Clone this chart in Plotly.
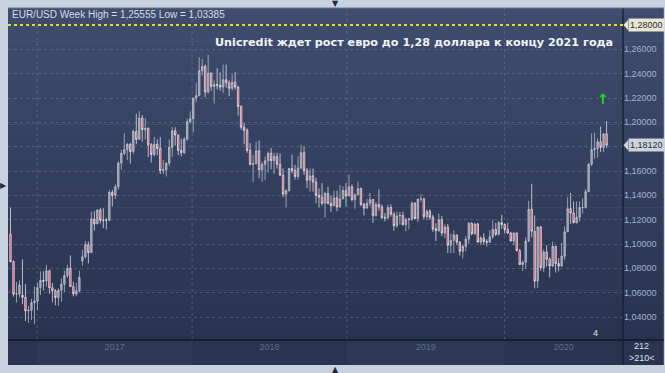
import plotly.graph_objects as go
import pandas as pd

# ---------------- DATA (weekly EUR/USD, weeks starting 2016-11-07) ----------------
opens_2016 = [1.1080, 1.0855, 1.0588, 1.0590, 1.0580, 1.0562, 1.0450, 1.0455]
highs_2016 = [1.1300, 1.0866, 1.0688, 1.0700, 1.0874, 1.0670, 1.0490, 1.0550]
lows_2016 = [1.0852, 1.0567, 1.0518, 1.0560, 1.0505, 1.0367, 1.0352, 1.0375]
closes_2016 = [1.0854, 1.0588, 1.0590, 1.0664, 1.0562, 1.0450, 1.0455, 1.0517]

opens_2017 = [1.0517, 1.0530, 1.0643, 1.0700, 1.0695, 1.0780, 1.0640, 1.0615, 1.0560, 1.0620,
              1.0670, 1.0740, 1.0800, 1.0650, 1.0590, 1.0615, 1.0860, 1.0895, 1.0995, 1.0930,
              1.1205, 1.1165, 1.1280, 1.1195, 1.1195, 1.1195, 1.1425, 1.1400, 1.1470, 1.1665,
              1.1745, 1.1775, 1.1820, 1.1760, 1.1925, 1.1860, 1.2035, 1.1940, 1.1950, 1.1815,
              1.1735, 1.1820, 1.1785, 1.1605, 1.1610, 1.1665, 1.1795, 1.1930, 1.1895, 1.1770,
              1.1750, 1.1860]
highs_2017 = [1.0650, 1.0685, 1.0775, 1.0776, 1.0829, 1.0790, 1.0680, 1.0630, 1.0635, 1.0715,
              1.0780, 1.0830, 1.0906, 1.0690, 1.0680, 1.0780, 1.0950, 1.1025, 1.1020, 1.1265,
              1.1270, 1.1285, 1.1295, 1.1295, 1.1215, 1.1445, 1.1445, 1.1490, 1.1680, 1.1775,
              1.1910, 1.1830, 1.1830, 1.1940, 1.2070, 1.2092, 1.2060, 1.2035, 1.1960, 1.1830,
              1.1880, 1.1860, 1.1880, 1.1690, 1.1670, 1.1860, 1.1960, 1.1960, 1.1900, 1.1865,
              1.1880, 1.2030]
lows_2017 = [1.0340, 1.0455, 1.0580, 1.0620, 1.0650, 1.0590, 1.0520, 1.0495, 1.0490, 1.0525,
             1.0605, 1.0720, 1.0650, 1.0570, 1.0570, 1.0600, 1.0820, 1.0880, 1.0840, 1.0925,
             1.1110, 1.1165, 1.1170, 1.1130, 1.1120, 1.1190, 1.1310, 1.1370, 1.1445, 1.1610,
             1.1730, 1.1690, 1.1660, 1.1740, 1.1820, 1.1860, 1.1840, 1.1860, 1.1715, 1.1670,
             1.1720, 1.1730, 1.1575, 1.1575, 1.1555, 1.1640, 1.1715, 1.1810, 1.1730, 1.1720,
             1.1740, 1.1850]
closes_2017 = [1.0530, 1.0643, 1.0700, 1.0695, 1.0780, 1.0640, 1.0615, 1.0560, 1.0620, 1.0670,
               1.0740, 1.0800, 1.0650, 1.0590, 1.0615, 1.0725, 1.0895, 1.0995, 1.0930, 1.1205,
               1.1165, 1.1280, 1.1195, 1.1195, 1.1195, 1.1425, 1.1400, 1.1470, 1.1665, 1.1745,
               1.1775, 1.1820, 1.1760, 1.1925, 1.1860, 1.2035, 1.1940, 1.1950, 1.1815, 1.1735,
               1.1820, 1.1785, 1.1605, 1.1610, 1.1665, 1.1795, 1.1930, 1.1895, 1.1770, 1.1750,
               1.1860, 1.2005]

opens_2018 = [1.2005, 1.2030, 1.2200, 1.2220, 1.2425, 1.2460, 1.2250, 1.2405, 1.2295, 1.2310,
              1.2305, 1.2290, 1.2350, 1.2325, 1.2280, 1.2330, 1.2290, 1.2130, 1.1960, 1.1935,
              1.1770, 1.1655, 1.1660, 1.1765, 1.1610, 1.1655, 1.1685, 1.1745, 1.1685, 1.1720,
              1.1655, 1.1565, 1.1410, 1.1440, 1.1620, 1.1605, 1.1555, 1.1625, 1.1750, 1.1605,
              1.1525, 1.1560, 1.1510, 1.1400, 1.1385, 1.1335, 1.1415, 1.1335, 1.1315, 1.1380,
              1.1305, 1.1370]
highs_2018 = [1.2090, 1.2200, 1.2325, 1.2537, 1.2520, 1.2475, 1.2555, 1.2410, 1.2345, 1.2445,
              1.2410, 1.2475, 1.2475, 1.2345, 1.2395, 1.2415, 1.2300, 1.2140, 1.1995, 1.1950,
              1.1830, 1.1730, 1.1840, 1.1850, 1.1675, 1.1720, 1.1760, 1.1790, 1.1750, 1.1750,
              1.1745, 1.1620, 1.1450, 1.1625, 1.1735, 1.1650, 1.1720, 1.1815, 1.1800, 1.1625,
              1.1620, 1.1620, 1.1545, 1.1455, 1.1500, 1.1430, 1.1470, 1.1400, 1.1440, 1.1440,
              1.1485, 1.1475]
lows_2018 = [1.1990, 1.1915, 1.2165, 1.2215, 1.2385, 1.2205, 1.2235, 1.2260, 1.2155, 1.2270,
             1.2260, 1.2240, 1.2285, 1.2215, 1.2260, 1.2270, 1.2055, 1.1940, 1.1820, 1.1750,
             1.1645, 1.1510, 1.1655, 1.1540, 1.1510, 1.1525, 1.1590, 1.1615, 1.1575, 1.1620,
             1.1560, 1.1385, 1.1300, 1.1430, 1.1580, 1.1530, 1.1530, 1.1615, 1.1570, 1.1460,
             1.1430, 1.1430, 1.1335, 1.1300, 1.1315, 1.1215, 1.1325, 1.1265, 1.1310, 1.1270,
             1.1300, 1.1370]
closes_2018 = [1.2030, 1.2200, 1.2220, 1.2425, 1.2460, 1.2250, 1.2405, 1.2295, 1.2310, 1.2305,
               1.2290, 1.2350, 1.2325, 1.2280, 1.2330, 1.2290, 1.2130, 1.1960, 1.1935, 1.1770,
               1.1655, 1.1660, 1.1765, 1.1610, 1.1655, 1.1685, 1.1745, 1.1685, 1.1720, 1.1655,
               1.1565, 1.1410, 1.1440, 1.1620, 1.1605, 1.1555, 1.1625, 1.1750, 1.1605, 1.1525,
               1.1560, 1.1510, 1.1400, 1.1385, 1.1335, 1.1415, 1.1335, 1.1315, 1.1380, 1.1305,
               1.1370, 1.1440]

opens_2019 = [1.1440, 1.1395, 1.1470, 1.1365, 1.1405, 1.1455, 1.1325, 1.1295, 1.1335, 1.1365,
              1.1235, 1.1325, 1.1305, 1.1215, 1.1215, 1.1300, 1.1245, 1.1150, 1.1230, 1.1235,
              1.1160, 1.1200, 1.1205, 1.1335, 1.1210, 1.1370, 1.1370, 1.1225, 1.1270, 1.1220,
              1.1125, 1.1110, 1.1200, 1.1090, 1.1140, 1.0990, 1.1030, 1.1075, 1.1015, 1.0940,
              1.0980, 1.1040, 1.1170, 1.1085, 1.1165, 1.1015, 1.1050, 1.1020, 1.1015, 1.1060,
              1.1120, 1.1080, 1.1175]
highs_2019 = [1.1500, 1.1570, 1.1490, 1.1415, 1.1515, 1.1465, 1.1340, 1.1370, 1.1420, 1.1370,
              1.1345, 1.1450, 1.1325, 1.1255, 1.1325, 1.1325, 1.1265, 1.1265, 1.1265, 1.1265,
              1.1215, 1.1215, 1.1350, 1.1345, 1.1370, 1.1410, 1.1380, 1.1285, 1.1285, 1.1240,
              1.1170, 1.1250, 1.1230, 1.1160, 1.1165, 1.1085, 1.1110, 1.1075, 1.1025, 1.0999,
              1.1065, 1.1180, 1.1180, 1.1175, 1.1175, 1.1065, 1.1090, 1.1040, 1.1115, 1.1200,
              1.1175, 1.1190, 1.1240]
lows_2019 = [1.1310, 1.1390, 1.1350, 1.1290, 1.1405, 1.1310, 1.1235, 1.1290, 1.1310, 1.1175,
             1.1225, 1.1275, 1.1210, 1.1185, 1.1205, 1.1225, 1.1110, 1.1135, 1.1160, 1.1150,
             1.1105, 1.1120, 1.1190, 1.1200, 1.1180, 1.1345, 1.1205, 1.1195, 1.1200, 1.1100,
             1.1025, 1.1100, 1.1065, 1.1050, 1.0925, 1.0925, 1.0925, 1.0990, 1.0905, 1.0880,
             1.0940, 1.1000, 1.1070, 1.1075, 1.1015, 1.0990, 1.0995, 1.0980, 1.1010, 1.1040,
             1.1065, 1.1070, 1.1125]
closes_2019 = [1.1395, 1.1470, 1.1365, 1.1405, 1.1455, 1.1325, 1.1295, 1.1335, 1.1365, 1.1235,
               1.1325, 1.1305, 1.1215, 1.1215, 1.1300, 1.1245, 1.1150, 1.1230, 1.1235, 1.1160,
               1.1200, 1.1205, 1.1335, 1.1210, 1.1370, 1.1370, 1.1225, 1.1270, 1.1220, 1.1125,
               1.1110, 1.1200, 1.1090, 1.1140, 1.0990, 1.1030, 1.1075, 1.1015, 1.0940, 1.0980,
               1.1040, 1.1170, 1.1085, 1.1165, 1.1015, 1.1050, 1.1020, 1.1015, 1.1060, 1.1120,
               1.1080, 1.1175, 1.1160]

opens_2020 = [1.1160, 1.1120, 1.1090, 1.1025, 1.1090, 1.0945, 1.0830, 1.0850, 1.1025, 1.1285,
              1.1105, 1.0695, 1.1140, 1.0805, 1.0935, 1.0875, 1.0820, 1.0980, 1.0840, 1.0820,
              1.0900, 1.1100, 1.1290, 1.1255, 1.1175, 1.1220, 1.1300, 1.1300, 1.1430, 1.1655,
              1.1775, 1.1785, 1.1840, 1.1795, 1.1905]
highs_2020 = [1.1170, 1.1175, 1.1100, 1.1095, 1.1095, 1.0960, 1.0865, 1.1055, 1.1355, 1.1495,
              1.1235, 1.1145, 1.1150, 1.0955, 1.0990, 1.0890, 1.1020, 1.0985, 1.0885, 1.1010,
              1.1145, 1.1385, 1.1420, 1.1350, 1.1350, 1.1350, 1.1375, 1.1450, 1.1665, 1.1910,
              1.1915, 1.1865, 1.1965, 1.1910, 1.2011]
lows_2020 = [1.1085, 1.1085, 1.1020, 1.0990, 1.0940, 1.0830, 1.0778, 1.0795, 1.1015, 1.1055,
             1.0635, 1.0640, 1.0780, 1.0770, 1.0815, 1.0725, 1.0810, 1.0765, 1.0775, 1.0810,
             1.0870, 1.1100, 1.1165, 1.1170, 1.1170, 1.1185, 1.1250, 1.1290, 1.1430, 1.1640,
             1.1700, 1.1710, 1.1755, 1.1755, 1.1790]
closes_2020 = [1.1120, 1.1090, 1.1025, 1.1090, 1.0945, 1.0830, 1.0850, 1.1025, 1.1285, 1.1105,
               1.0695, 1.1140, 1.0805, 1.0935, 1.0875, 1.0820, 1.0980, 1.0840, 1.0820, 1.0900,
               1.1100, 1.1290, 1.1255, 1.1175, 1.1220, 1.1300, 1.1300, 1.1430, 1.1655, 1.1775,
               1.1785, 1.1840, 1.1795, 1.1905, 1.1812]

year_labels = ["2017", "2018", "2019", "2020"]
price_ticks = [1.04, 1.06, 1.08, 1.10, 1.12, 1.14, 1.16, 1.18, 1.20, 1.22, 1.24, 1.26, 1.28]
target_price = 1.28
last_price = 1.18120
header_text = "EUR/USD Week High = 1,25555 Low = 1,03385"
title_text = "Unicredit ждет рост евро до 1,28 доллара к концу 2021 года"

opens = opens_2016 + opens_2017 + opens_2018 + opens_2019 + opens_2020
highs = highs_2016 + highs_2017 + highs_2018 + highs_2019 + highs_2020
lows = lows_2016 + lows_2017 + lows_2018 + lows_2019 + lows_2020
closes = closes_2016 + closes_2017 + closes_2018 + closes_2019 + closes_2020
dates = pd.date_range("2016-11-07", periods=len(closes), freq="7D")

# ---------------- LAYOUT GEOMETRY ----------------
W, H = 665, 373
ML, MR, MT, MB = 8, 39, 8, 33
PW, PH = W - ML - MR, H - MT - MB
PX_PER_BAR = 3.01
FIRST_BAR_PX = 10.5


def px(x):
    return (x - ML) / PW


def py(y):
    return (H - MB - y) / PH


def px_date(x):
    return dates[0] + pd.Timedelta(days=7 * (x - FIRST_BAR_PX) / PX_PER_BAR)


def fmt(v):
    return f"{v:.5f}".replace(".", ",")


# y range: 1.28 at y=25px, 12.167 px per 0.01
PPU = 1216.7
y_top = target_price + (25 - MT) / PPU
y_bot = target_price - (H - MB - 25) / PPU

fig = go.Figure()
fig.add_trace(go.Candlestick(
    x=dates, open=opens, high=highs, low=lows, close=closes,
    increasing=dict(line=dict(color="#c9cdd6", width=0.7), fillcolor="#8d93a3"),
    decreasing=dict(line=dict(color="#f4f4f6", width=0.7), fillcolor="#ea3a55"),
    whiskerwidth=0, showlegend=False, hoverinfo="skip",
))

shapes = []
# gradient background for chart + price panel
N = 40
top_c = (0x3f, 0x4c, 0x6d)
bot_c = (0x28, 0x33, 0x4f)
for i in range(N):
    t = i / (N - 1)
    c = tuple(int(round(top_c[k] + (bot_c[k] - top_c[k]) * t)) for k in range(3))
    y0 = MT + (H - MB - MT) * i / N
    y1 = MT + (H - MB - MT) * (i + 1) / N + 0.6
    shapes.append(dict(type="rect", xref="paper", yref="paper", x0=px(ML), x1=px(W + 2),
                       y0=py(y1), y1=py(y0), fillcolor="rgb(%d,%d,%d)" % c,
                       line=dict(width=0), layer="below"))
# bottom time strip
shapes.append(dict(type="rect", xref="paper", yref="paper", x0=px(ML), x1=px(W + 2),
                   y0=py(365), y1=py(340), fillcolor="#2a3451", line=dict(width=0), layer="below"))
year_px = [37.3, 193.0, 348.6, 507.0, 626.0]
for k in range(len(year_px) - 1):
    if k % 2 == 0:
        shapes.append(dict(type="rect", xref="paper", yref="paper", x0=px(year_px[k]),
                           x1=px(year_px[k + 1]), y0=py(365), y1=py(341),
                           fillcolor="#2e3957", line=dict(width=0), layer="below"))
# separator lines
shapes.append(dict(type="line", xref="paper", yref="paper", x0=px(ML), x1=px(W + 2),
                   y0=py(340), y1=py(340), line=dict(color="#121722", width=1.5)))
shapes.append(dict(type="line", xref="paper", yref="paper", x0=px(626), x1=px(626),
                   y0=py(365), y1=py(MT), line=dict(color="#151b28", width=1.2)))
shapes.append(dict(type="line", xref="paper", yref="paper", x0=px(ML), x1=px(W + 2),
                   y0=py(MT), y1=py(MT), line=dict(color="#6a7690", width=1)))
# year boundary dotted lines
for xp in year_px[:4]:
    d = px_date(xp)
    shapes.append(dict(type="line", xref="x", yref="paper", x0=d, x1=d, y0=0, y1=1,
                       line=dict(color="rgba(120,135,165,0.45)", width=1, dash="dot"),
                       layer="below"))
# target dashed yellow line
shapes.append(dict(type="line", xref="paper", yref="y", x0=0, x1=1, y0=target_price,
                   y1=target_price, line=dict(color="#e4dc1c", width=2, dash="dot")))
# pointers of the price boxes
for p, col in [(target_price, "#e8e6d2"), (last_price, "#cfd3dc")]:
    h = 5 / PPU
    shapes.append(dict(type="path", xref="paper", yref="y",
                       path=f"M {px(626.5)} {p} L {px(631)} {p + h} L {px(631)} {p - h} Z",
                       fillcolor=col, line=dict(width=0)))

annotations = [
    dict(xref="paper", yref="paper", x=px(10), y=py(14), xanchor="left", yanchor="middle",
         text=header_text, showarrow=False,
         font=dict(family="Liberation Sans, Arial", size=10, color="#d6dde8")),
    dict(xref="paper", yref="paper", x=px(618), y=py(42), xanchor="right", yanchor="middle",
         text=title_text, showarrow=False,
         font=dict(family="DejaVu Sans", size=11.2, color="#f2f3f6", weight="bold")),
    dict(xref="paper", yref="y", x=px(631), y=target_price, xanchor="left", yanchor="middle",
         text=fmt(target_price), showarrow=False, bgcolor="#e8e6d2", borderpad=1,
         font=dict(family="Liberation Sans, Arial", size=9, color="#2a2e36")),
    dict(xref="paper", yref="y", x=px(631), y=last_price, xanchor="left", yanchor="middle",
         text=fmt(last_price), showarrow=False, bgcolor="#cfd3dc", borderpad=1,
         font=dict(family="Liberation Sans, Arial", size=9, color="#2a2e36")),
    dict(xref="paper", yref="paper", x=px(605.5), y=py(99), xanchor="center", yanchor="middle",
         text="<b>↑</b>", showarrow=False,
         font=dict(family="DejaVu Sans", size=14, color="#14e014")),
    dict(xref="paper", yref="paper", x=px(598), y=py(333), xanchor="center", yanchor="middle",
         text="4", showarrow=False,
         font=dict(family="Liberation Sans, Arial", size=9, color="#e0e4ec")),
    dict(xref="paper", yref="paper", x=px(645), y=py(346), xanchor="center", yanchor="middle",
         text="212", showarrow=False,
         font=dict(family="Liberation Sans, Arial", size=9, color="#dfe4ec")),
    dict(xref="paper", yref="paper", x=px(645), y=py(358), xanchor="center", yanchor="middle",
         text=">210<", showarrow=False,
         font=dict(family="Liberation Sans, Arial", size=9, color="#dfe4ec")),
    dict(xref="paper", yref="paper", x=px(337), y=py(3), xanchor="center", yanchor="middle",
         text="▼", showarrow=False, font=dict(family="DejaVu Sans", size=8, color="#1e2a3e")),
    dict(xref="paper", yref="paper", x=px(337), y=py(369), xanchor="center", yanchor="middle",
         text="▲", showarrow=False, font=dict(family="DejaVu Sans", size=8, color="#1e2a3e")),
    dict(xref="paper", yref="paper", x=px(3.5), y=py(185), xanchor="center", yanchor="middle",
         text="▶", showarrow=False, font=dict(family="DejaVu Sans", size=8, color="#1e2a3e")),
]

year_centers = [px_date((year_px[k] + year_px[k + 1]) / 2) for k in range(4)]

fig.update_layout(
    width=W, height=H,
    margin=dict(l=ML, r=MR, t=MT, b=MB),
    paper_bgcolor="#c8d2de",
    plot_bgcolor="rgba(0,0,0,0)",
    shapes=shapes,
    annotations=annotations,
    showlegend=False,
    xaxis=dict(
        type="date",
        range=[px_date(ML), px_date(ML + PW)],
        rangeslider=dict(visible=False),
        showgrid=False, zeroline=False, showline=False,
        tickvals=year_centers, ticktext=year_labels, ticks="",
        tickfont=dict(family="Liberation Sans, Arial", size=9, color="#5f6e8c"),
        fixedrange=True,
    ),
    yaxis=dict(
        side="right",
        range=[y_bot, y_top],
        tickvals=price_ticks,
        ticktext=["" if v in (1.18, 1.28) else fmt(v) for v in price_ticks],
        showgrid=True, gridcolor="rgba(125,140,170,0.38)", griddash="dot", gridwidth=1,
        zeroline=False, showline=False, ticks="",
        tickfont=dict(family="Liberation Sans, Arial", size=9, color="#a4b3cc"),
        fixedrange=True,
    ),
)

fig.write_html("out.html")
